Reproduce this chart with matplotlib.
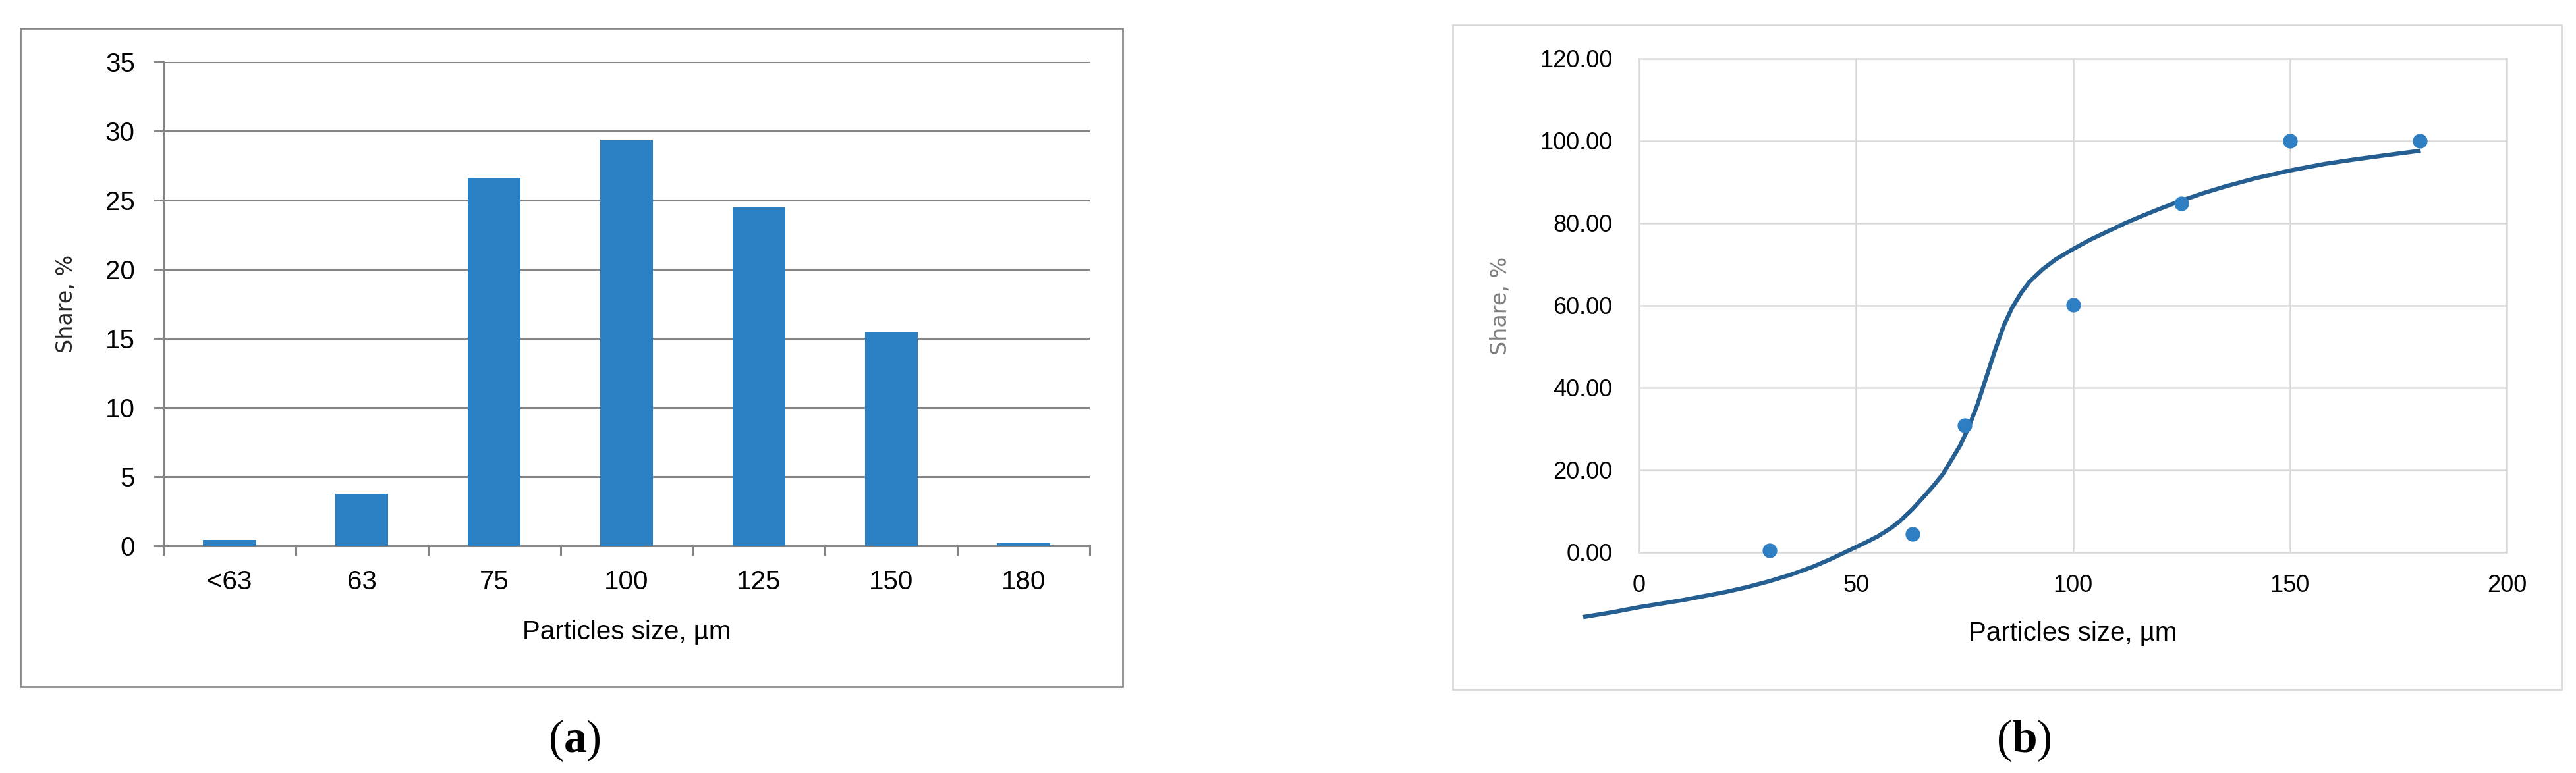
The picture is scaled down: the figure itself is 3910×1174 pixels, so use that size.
import numpy as np
import matplotlib
matplotlib.use("Agg")
import matplotlib.pyplot as plt
from matplotlib.patches import Rectangle
from matplotlib.ticker import FormatStrFormatter

plt.rcParams["font.family"] = ["Liberation Sans", "DejaVu Sans"]
plt.rcParams["mathtext.fontset"] = "custom"
plt.rcParams["mathtext.rm"] = "Liberation Serif"
plt.rcParams["mathtext.bf"] = "Liberation Serif:bold"

# ---- data (a): particle size distribution ----
sizes = ["<63", "63", "75", "100", "125", "150", "180"]
share = [0.43, 3.75, 26.6, 29.4, 24.5, 15.5, 0.18]

# ---- data (b): cumulative share, measured points ----
cum_x = [30, 63, 75, 100, 125, 150, 180]
cum_y = [0.43, 4.5, 30.9, 60.1, 84.8, 100.0, 100.0]

# trend line
trend_x = [-12.9, -6, 0, 10, 20, 25, 30, 35, 40, 44, 48, 52, 55, 58, 60, 63,
           66, 68, 70, 72, 74, 76, 78, 80, 82, 84, 86, 88, 90, 93, 96, 100,
           104, 108, 112, 116, 120, 125, 130, 135, 142, 150, 158, 165, 172, 180]
trend_y = [-15.7, -14.5, -13.3, -11.6, -9.6, -8.4, -7.0, -5.4, -3.5, -1.7, 0.3,
           2.3, 3.9, 5.9, 7.5, 10.5, 14.0, 16.4, 19.0, 22.5, 26.0, 30.5, 36.0,
           42.5, 49.0, 55.0, 59.5, 63.0, 65.8, 68.8, 71.2, 73.7, 76.0, 78.0,
           80.0, 81.8, 83.5, 85.5, 87.3, 88.9, 90.9, 92.8, 94.4, 95.5, 96.5,
           97.6]

W, H = 3910, 1174
fig = plt.figure(figsize=(W / 100, H / 100), dpi=100)

# ---- panel (a) ----
ax1 = fig.add_axes([248 / W, 1 - 829 / H, 1406 / W, 735 / H])
xpos = np.arange(len(sizes))
ax1.bar(xpos, share, width=0.4, color="#2A80C2", zorder=3)
ax1.set_xlim(-0.5, len(sizes) - 0.5)
ax1.set_ylim(0, 35)
ax1.set_yticks(range(0, 36, 5))
ax1.yaxis.grid(True, color="#858585", lw=2.2)
ax1.set_axisbelow(True)
for s in ["top", "right"]:
    ax1.spines[s].set_visible(False)
for s in ["left", "bottom"]:
    ax1.spines[s].set_color("#858585")
    ax1.spines[s].set_linewidth(2.2)
ax1.set_xticks(np.arange(-0.5, len(sizes), 1.0))
ax1.set_xticklabels([])
ax1.set_xticks(xpos, labels=sizes, minor=True)
ax1.tick_params(axis="x", which="major", length=11, width=2.2, color="#858585")
ax1.tick_params(axis="x", which="minor", length=0, pad=26, labelsize=29)
ax1.tick_params(axis="y", length=11, width=2.2, color="#858585", pad=20, labelsize=29)
ax1.set_ylabel("Share, %", family="DejaVu Sans", fontsize=24, color="#262626")
ax1.yaxis.set_label_coords(-0.0932, 0.5)
ax1.set_xlabel("Particles size, µm", fontsize=29)
ax1.xaxis.label.set_va("center")
ax1.xaxis.set_label_coords(0.5, -0.178)

# ---- panel (b) ----
ax2 = fig.add_axes([2488 / W, 1 - 839 / H, 1317 / W, 750 / H])
ax2.plot(trend_x, trend_y, color="#255E91", lw=4.6, clip_on=False,
         solid_joinstyle="round", solid_capstyle="butt", zorder=3)
ax2.plot(cum_x, cum_y, "o", ms=15, color="#2E7EC3", clip_on=False, zorder=4)
ax2.set_xlim(0, 200)
ax2.set_ylim(0, 120)
ax2.set_xticks(range(0, 201, 50))
ax2.set_yticks(range(0, 121, 20))
ax2.yaxis.set_major_formatter(FormatStrFormatter("%.2f"))
ax2.grid(True, color="#D9D9D9", lw=1.8)
ax2.set_axisbelow(True)
for s in ax2.spines.values():
    s.set_color("#D9D9D9")
    s.set_linewidth(1.8)
ax2.tick_params(axis="both", length=0, labelsize=26)
ax2.tick_params(axis="x", pad=24)
ax2.tick_params(axis="y", pad=29)
ax2.set_ylabel("Share, %", family="DejaVu Sans", fontsize=24, color="#7F7F7F")
ax2.yaxis.set_label_coords(-0.147, 0.5)
ax2.set_xlabel("Particles size, µm", fontsize=29)
ax2.xaxis.label.set_va("center")
ax2.xaxis.set_label_coords(0.5, -0.164)

# ---- frames round each chart ----
fig.add_artist(Rectangle((31 / W, 1 - 1043 / H), 1673 / W, 1000 / H,
                         transform=fig.transFigure, fill=False, ec="#898989", lw=2.0))
fig.add_artist(Rectangle((2205 / W, 1 - 1047 / H), 1683 / W, 1009 / H,
                         transform=fig.transFigure, fill=False, ec="#D9D9D9", lw=2.0))

# ---- panel letters ----
fig.text(872 / W, 1 - 1125 / H, r"($\mathbf{a}$)", ha="center", va="center",
         fontsize=50, family="Liberation Serif")
fig.text(3072 / W, 1 - 1125 / H, r"($\mathbf{b}$)", ha="center", va="center",
         fontsize=50, family="Liberation Serif")

fig.savefig("out.png", dpi=100)
